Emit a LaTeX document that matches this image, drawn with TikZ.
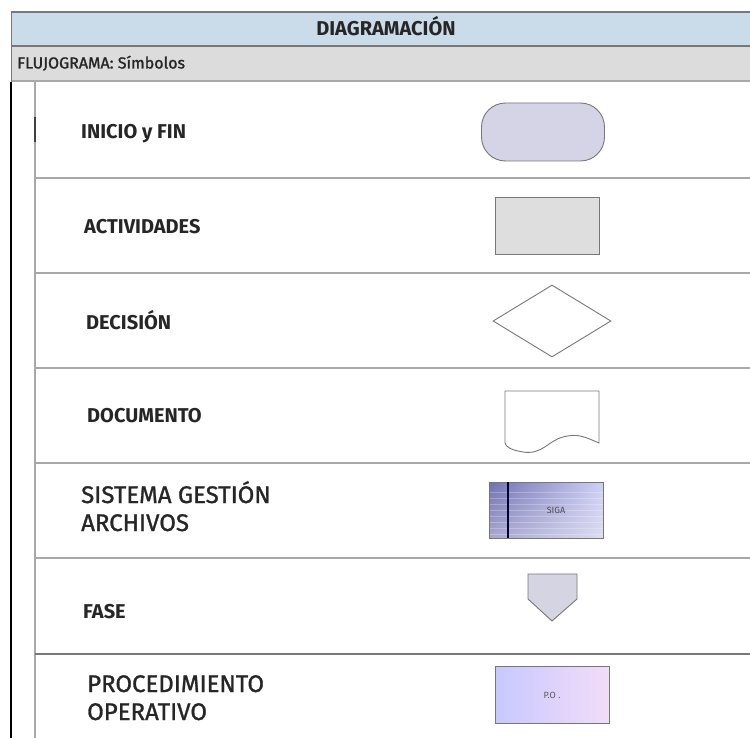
\documentclass[tikz,border=0pt]{standalone}
\usepackage{fontspec}
\setmainfont{Fira Sans}
\newfontfamily\medfont{Fira Sans}[FakeBold=1.2]
\usetikzlibrary{shapes.geometric,shadings}
\definecolor{hdrblue}{HTML}{CADBEA}
\definecolor{hdrgray}{HTML}{DCDCDC}
\definecolor{bordark}{HTML}{787878}
\definecolor{sepgray}{HTML}{A8A8A8}
\definecolor{termfill}{HTML}{D4D4E6}
\definecolor{actfill}{HTML}{DEDEDE}
\definecolor{shapeline}{HTML}{777777}
\definecolor{fasefill}{HTML}{D4D4E2}
\definecolor{sigaul}{HTML}{7070B0}
\definecolor{sigaur}{HTML}{CED0F6}
\definecolor{sigall}{HTML}{A8A8D0}
\definecolor{sigalr}{HTML}{DCDCF2}
\definecolor{pol}{HTML}{C8C8FF}
\definecolor{por}{HTML}{F2DCF8}
\tikzset{
  sep/.style={draw=sepgray, line width=1.6pt},
  lbl/.style={anchor=base west, inner sep=0pt, font=\fontsize{20}{24}\selectfont\bfseries, text=black!85},
  biglbl/.style={anchor=base west, inner sep=0pt, font=\fontsize{24}{28}\selectfont\medfont, text=black!85},
  shp/.style={draw=shapeline, line width=0.9pt, inner sep=0pt},
}
\begin{document}
\begin{tikzpicture}[x=1pt,y=-1pt]
\useasboundingbox (0,0) rectangle (750,738);
% header bands
\fill[hdrblue] (11,12) rectangle (750,46);
\fill[hdrgray] (11,46) rectangle (750,81);
\draw[bordark, line width=2pt] (11,12) -- (750,12);
\draw[bordark, line width=2pt] (11,46) -- (750,46);
\draw[sepgray, line width=1.6pt] (11,81) -- (750,81);
\draw[bordark, line width=1pt] (11,12) -- (11,82);
\node[anchor=base, inner sep=0pt, font=\fontsize{20}{24}\selectfont\bfseries, text=black!85] (title) at (386,36) {DIAGRAMACIÓN};
\node[anchor=base west, inner sep=0pt, font=\fontsize{16}{18}\selectfont\medfont, text=black!85] (sub) at (17,68.5) {FLUJOGRAMA: Símbolos};
% vertical frame lines
\draw[black, line width=1.3pt] (11,82) -- (11,738);
\draw[sepgray, line width=1.6pt] (35,82) -- (35,738);
\draw[black!75, line width=1.4pt] (35,117) -- (35,142);
% row separators
\draw[sep] (35,178) -- (750,178);
\draw[sep] (35,273) -- (750,273);
\draw[sep] (35,368) -- (750,368);
\draw[sep] (35,463) -- (750,463);
\draw[sep] (35,558) -- (750,558);
\draw[draw=bordark, line width=1.6pt] (35,654) -- (750,654);
% labels
\node[lbl] (l1) at (81,139) {INICIO y FIN};
\node[lbl] (l2) at (84,234) {ACTIVIDADES};
\node[lbl] (l3) at (86,329) {DECISIÓN};
\node[lbl] (l4) at (87,422) {DOCUMENTO};
\node[biglbl] (l5a) at (81,503) {SISTEMA GESTIÓN};
\node[biglbl] (l5b) at (81,531) {ARCHIVOS};
\node[lbl] (l6) at (83,618) {FASE};
\node[biglbl] (l7a) at (87,692) {PROCEDIMIENTO};
\node[biglbl] (l7b) at (87,720) {OPERATIVO};
% shapes
\node[shp, fill=termfill, rounded corners=24pt, minimum width=123pt, minimum height=58pt] (term) at (543,132) {};
\node[shp, fill=actfill, minimum width=104pt, minimum height=57pt] (act) at (547,225.5) {};
\node[shp, diamond, minimum width=118pt, minimum height=72pt] (dec) at (552,321) {};
% document
\draw[shp, fill=white] (505,443) -- (505,391) -- (599,391) -- (599,443)
  .. controls (585,437) and (578,433) .. (563,437)
  .. controls (548,441) and (542,455) .. (523,452)
  .. controls (511,450) and (506,447) .. (505,443);
\coordinate (doc) at (552,420);
% SIGA
\shade[upper left=sigaul, upper right=sigaur, lower left=sigall, lower right=sigalr]
  (489,482) rectangle (603,538);
\foreach \yy in {492,498,...,534} {
  \draw[white, opacity=0.25, line width=0.5pt] (489,\yy) -- (603,\yy);
}
\node[shp, minimum width=114pt, minimum height=56pt] (siga) at (546,510) {};
\draw[black!80!blue, line width=1.4pt] (508,482) -- (508,538);
\node[inner sep=0pt, font=\fontsize{9}{10}\selectfont, text=black!70] (sigatxt) at (556,510) {SIGA};
% FASE pentagon
\draw[shp, fill=fasefill] (528,574) -- (577,574) -- (577,599) -- (552,621) -- (528,599) -- cycle;
\coordinate (fase) at (552,595);
% P.O.
\shade[left color=pol, right color=por]
  (495,666) rectangle (609,723);
\node[shp, minimum width=114pt, minimum height=57pt] (po) at (552,694.5) {};
\node[inner sep=0pt, font=\fontsize{9}{10}\selectfont, text=black!65] (potxt) at (552,695) {P.O .};
\end{tikzpicture}
\end{document}
